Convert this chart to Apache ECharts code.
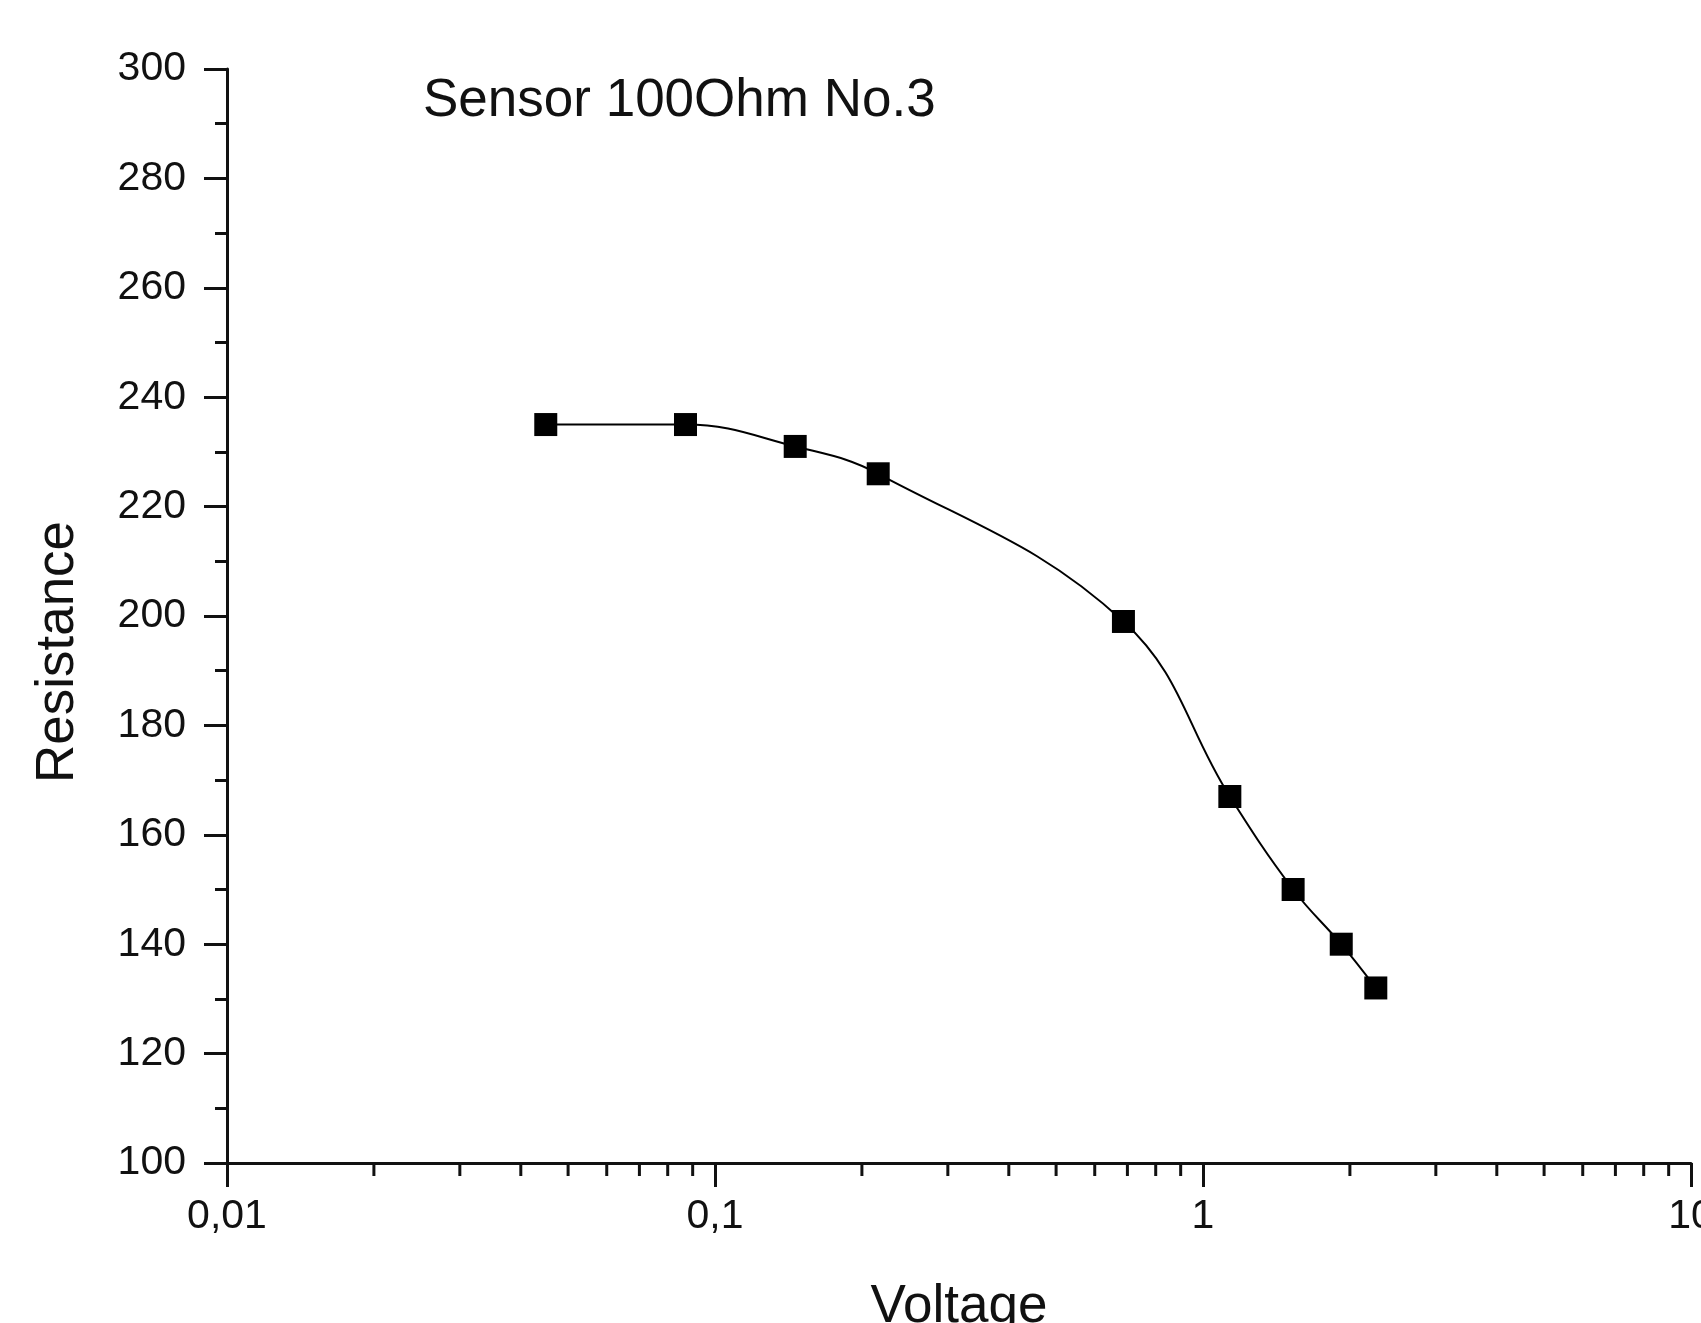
<!DOCTYPE html>
<html>
<head>
<meta charset="utf-8">
<script src="https://cdn.jsdelivr.net/npm/echarts@6/dist/echarts.min.js"></script>
<style>
  html, body { margin: 0; padding: 0; background: #fff; }
  #chart { width: 1701px; height: 1323px; }
</style>
</head>
<body>
<div id="chart"></div>
<script>
const voltage = [0.045, 0.087, 0.146, 0.216, 0.687, 1.135, 1.53, 1.92, 2.26];
const resistance = [235, 235, 231, 226, 199, 167, 150, 140, 132];

// axis ranges
const xMin = 0.01;
const xMax = 10;
const yMin = 100;
const yMax = 300;
const yStep = 20;

// minor ticks for the log x axis (2..9 in every decade)
const xMinorTicks = [
  0.02, 0.03, 0.04, 0.05, 0.06, 0.07, 0.08, 0.09,
  0.2, 0.3, 0.4, 0.5, 0.6, 0.7, 0.8, 0.9,
  2, 3, 4, 5, 6, 7, 8, 9,
];

const font = 'Liberation Sans, Arial, sans-serif';
const ink = '#111';

const chart = echarts.init(document.getElementById('chart'));

chart.setOption({
  backgroundColor: '#fff',
  animation: false,
  title: {
    text: 'Sensor 100Ohm No.3',
    left: 418,
    top: 70,
    textStyle: { fontFamily: font, fontSize: 53, fontWeight: 'normal', color: ink },
  },
  grid: { left: 227, right: 10, top: 69, bottom: 160, outerBoundsMode: 'none' },
  xAxis: {
    type: 'log',
    logBase: 10,
    min: xMin,
    max: xMax,
    name: 'Voltage',
    nameLocation: 'middle',
    nameGap: 118,
    nameTextStyle: { fontFamily: font, fontSize: 53, color: ink },
    axisLine: { show: true, lineStyle: { color: ink, width: 3 } },
    axisTick: { show: true, inside: false, length: 24, lineStyle: { color: ink, width: 3 } },
    axisLabel: {
      margin: 33,
      fontFamily: font,
      fontSize: 41,
      color: ink,
      formatter: (v) => String(+Number(v).toPrecision(6)).replace('.', ','),
    },
    splitLine: { show: false },
  },
  yAxis: {
    type: 'value',
    min: yMin,
    max: yMax,
    interval: yStep,
    name: 'Resistance',
    nameLocation: 'middle',
    nameGap: 142,
    nameTextStyle: { fontFamily: font, fontSize: 53, color: ink, padding: [0, 72, 0, 0] },
    axisLine: { show: true, lineStyle: { color: ink, width: 3 } },
    axisTick: { show: true, inside: false, length: 23, lineStyle: { color: ink, width: 3 } },
    minorTick: { show: true, splitNumber: 2, length: 12, lineStyle: { color: ink, width: 3 } },
    axisLabel: { margin: 41, fontFamily: font, fontSize: 41, color: ink },
    splitLine: { show: false },
  },
  series: [
    {
      type: 'line',
      data: voltage.map((v, i) => [v, resistance[i]]),
      smooth: 0.4,
      symbol: 'rect',
      symbolSize: 23,
      itemStyle: { color: '#000' },
      lineStyle: { color: '#000', width: 2 },
      z: 3,
    },
    {
      // minor ticks of the log axis, placed through the axis scale
      type: 'custom',
      clip: false,
      silent: true,
      data: xMinorTicks.map((v) => [v, yMin]),
      renderItem: (params, api) => {
        const p = api.coord([api.value(0), api.value(1)]);
        return {
          type: 'line',
          shape: { x1: p[0], y1: p[1], x2: p[0], y2: p[1] + 13 },
          style: { stroke: ink, lineWidth: 3 },
        };
      },
    },
  ],
});
</script>
</body>
</html>
